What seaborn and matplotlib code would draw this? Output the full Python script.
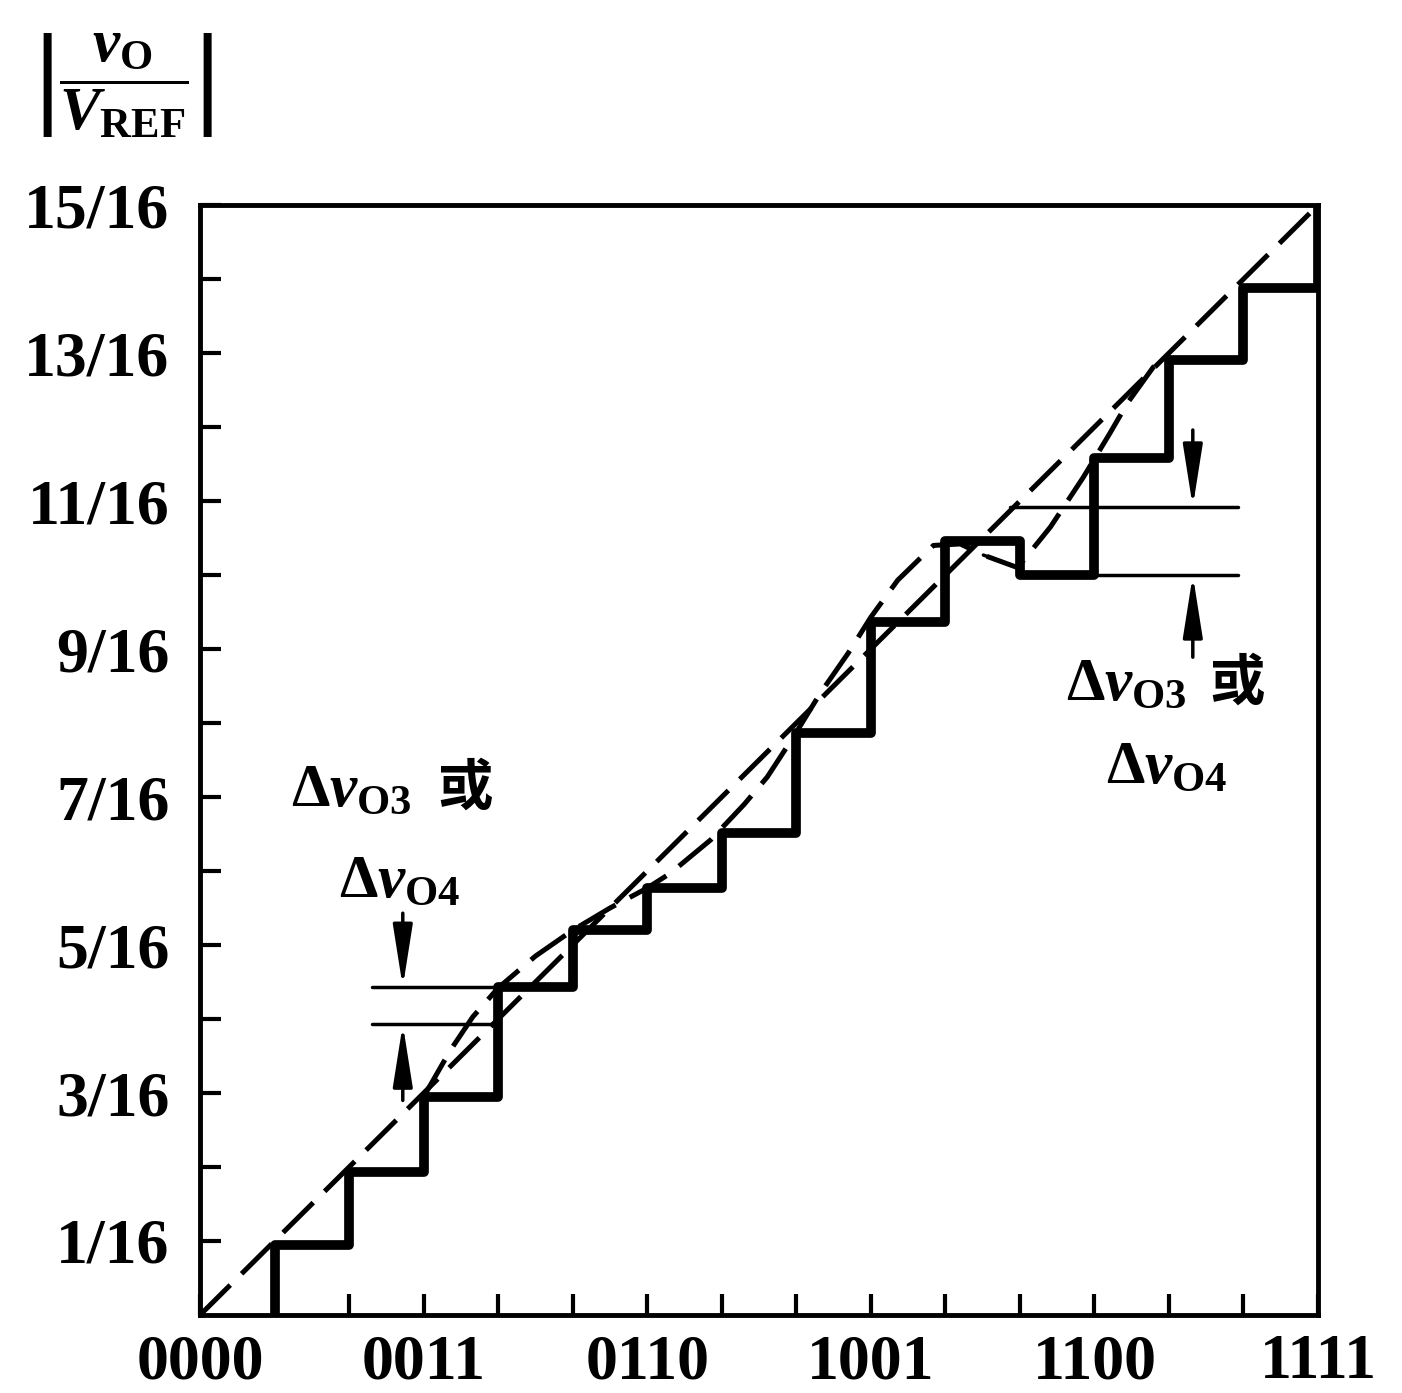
import matplotlib
matplotlib.use('Agg')
import matplotlib.pyplot as plt
import seaborn as sns
import pandas as pd

# ---------------- data (values in units of 1/16 of V_REF) ----------------
codes = list(range(16))
levels_16 = [0, 0.95, 1.93, 2.95, 4.43, 5.2, 5.77, 6.52, 7.86, 9.37,
             10.46, 10.0, 11.58, 12.9, 13.88, 15]

ideal_codes = [0, 15]
ideal_16 = [0, 15]

curve_codes = [3.0, 3.36, 3.66, 4.0, 4.5, 5.0, 5.5, 6.0, 6.31, 6.85, 7.3,
               7.61, 7.96, 8.32, 8.7, 9.0, 9.36, 9.84, 10.2, 10.51, 10.97,
               11.41, 11.85, 12.21, 12.44, 12.79, 13.0]
curve_16 = [2.95, 3.58, 4.03, 4.42, 4.85, 5.2, 5.5, 5.77, 5.97, 6.42, 6.9,
            7.27, 7.81, 8.4, 8.95, 9.43, 9.93, 10.4, 10.42, 10.27, 10.1,
            10.65, 11.32, 11.92, 12.32, 12.81, 12.95]

x_tick_pos = [0, 3, 6, 9, 12, 15]
x_tick_labels = ['0000', '0011', '0110', '1001', '1100', '1111']
y_tick_num = [1, 3, 5, 7, 9, 11, 13, 15]
y_tick_labels = ['1/16', '3/16', '5/16', '7/16', '9/16', '11/16', '13/16', '15/16']

# annotation guide lines (code from, code to, level in 1/16)
left_guides = [(2.31, 4.0, 4.43), (2.31, 4.0, 3.93)]
right_guides = [(10.87, 13.93, 10.92), (12.0, 13.93, 10.0)]
# arrows: (x code, tail level, tip level)
arrows = [(2.72, 5.43, 4.43), (2.72, 2.9, 3.93),
          (13.32, 11.96, 10.92), (13.32, 8.89, 10.0)]
# labels: (x code, baseline level, text)
math_labels = [(1.22, 6.89, r'$\Delta v_{\mathrm{O3}}$'),
               (1.86, 5.65, r'$\Delta v_{\mathrm{O4}}$'),
               (11.62, 8.31, r'$\Delta v_{\mathrm{O3}}$'),
               (12.15, 7.19, r'$\Delta v_{\mathrm{O4}}$')]
cjk_labels = [(3.18, 6.89, '或'), (13.54, 8.31, '或')]

# ---------------- style ----------------
sns.set_theme(style='ticks')
plt.rcParams['font.family'] = ['Liberation Serif', 'Noto Sans CJK SC', 'DejaVu Sans']
plt.rcParams['font.weight'] = 'bold'
plt.rcParams['text.color'] = 'black'
plt.rcParams['axes.labelcolor'] = 'black'
plt.rcParams['xtick.color'] = 'black'
plt.rcParams['ytick.color'] = 'black'
plt.rcParams['mathtext.fontset'] = 'custom'
plt.rcParams['mathtext.rm'] = 'Liberation Serif:bold'
plt.rcParams['mathtext.it'] = 'Liberation Serif:italic:bold'
plt.rcParams['mathtext.bf'] = 'Liberation Serif:bold'

fig = plt.figure(figsize=(14.02, 13.93), dpi=100)
ax = fig.add_axes([0.1427, 0.0560, 0.7974, 0.7968])

stair_x = [codes[1]] + codes[1:]
stair_y = [levels_16[0]] + levels_16[1:]
df_stair = pd.DataFrame({'code': stair_x, 'v': [l / 16 for l in stair_y]})
df_ideal = pd.DataFrame({'code': ideal_codes, 'v': [l / 16 for l in ideal_16]})
df_curve = pd.DataFrame({'code': curve_codes, 'v': [l / 16 for l in curve_16]})

dash = (0, (8.5, 3.2))
sns.lineplot(data=df_ideal, x='code', y='v', ax=ax, color='black', lw=3.6,
             linestyle=dash, estimator=None, sort=False)
sns.lineplot(data=df_curve, x='code', y='v', ax=ax, color='black', lw=3.6,
             linestyle=dash, estimator=None, sort=False)
# short solid piece of the curve between codes 10 and 11
seg = df_curve.iloc[19:21]
sns.lineplot(data=seg, x='code', y='v', ax=ax, color='black', lw=2.5,
             estimator=None, sort=False)
sns.lineplot(data=df_stair, x='code', y='v', ax=ax, color='black', lw=7,
             drawstyle='steps-post', estimator=None, sort=False)

for x0, x1, lv in left_guides + right_guides:
    ax.plot([x0, x1], [lv / 16, lv / 16], color='black', lw=2.5)

for xc, tail, tip in arrows:
    ax.annotate('', xy=(xc, tip / 16), xytext=(xc, tail / 16),
                arrowprops=dict(arrowstyle='-|>,head_length=1.9,head_width=0.3',
                                mutation_scale=20, lw=2.5, color='black',
                                shrinkA=0, shrinkB=0))

for xc, lv, s in math_labels:
    ax.text(xc, lv / 16, s, ha='left', va='baseline', fontsize=44,
            color='black')
for xc, lv, s in cjk_labels:
    ax.text(xc, lv / 16, s, ha='left', va='baseline', fontsize=40,
            color='black', family=['Noto Sans CJK SC', 'DejaVu Sans'],
            fontweight='bold')

ax.set_xlim(0, 15)
ax.set_ylim(0, 15 / 16)
ax.set_xticks(x_tick_pos, labels=x_tick_labels)
ax.set_xticks([c for c in codes if c not in x_tick_pos], minor=True)
ax.set_yticks([k / 16 for k in y_tick_num], labels=y_tick_labels)
ax.set_yticks([k / 16 for k in range(2, 15, 2)], minor=True)
ax.tick_params(which='both', direction='in', length=15, width=3, color='black')
ax.tick_params(axis='x', which='major', pad=14, labelsize=46, labelcolor='black')
ax.tick_params(axis='y', which='major', pad=22, labelsize=46, labelcolor='black')
for lab in ax.get_xticklabels() + ax.get_yticklabels():
    lab.set_fontweight('bold')
for sp in ax.spines.values():
    sp.set_linewidth(3.5)
    sp.set_color('black')
ax.set_xlabel('')
ax.set_ylabel('')
ax.grid(False)

fig.text(124 / 1402, 1 - 86 / 1393,
         r'$\left|\dfrac{v_{\mathrm{O}}}{V_{\mathrm{REF}}}\right|$',
         ha='center', va='center', fontsize=44, color='black')

fig.savefig('out.png', dpi=100)
